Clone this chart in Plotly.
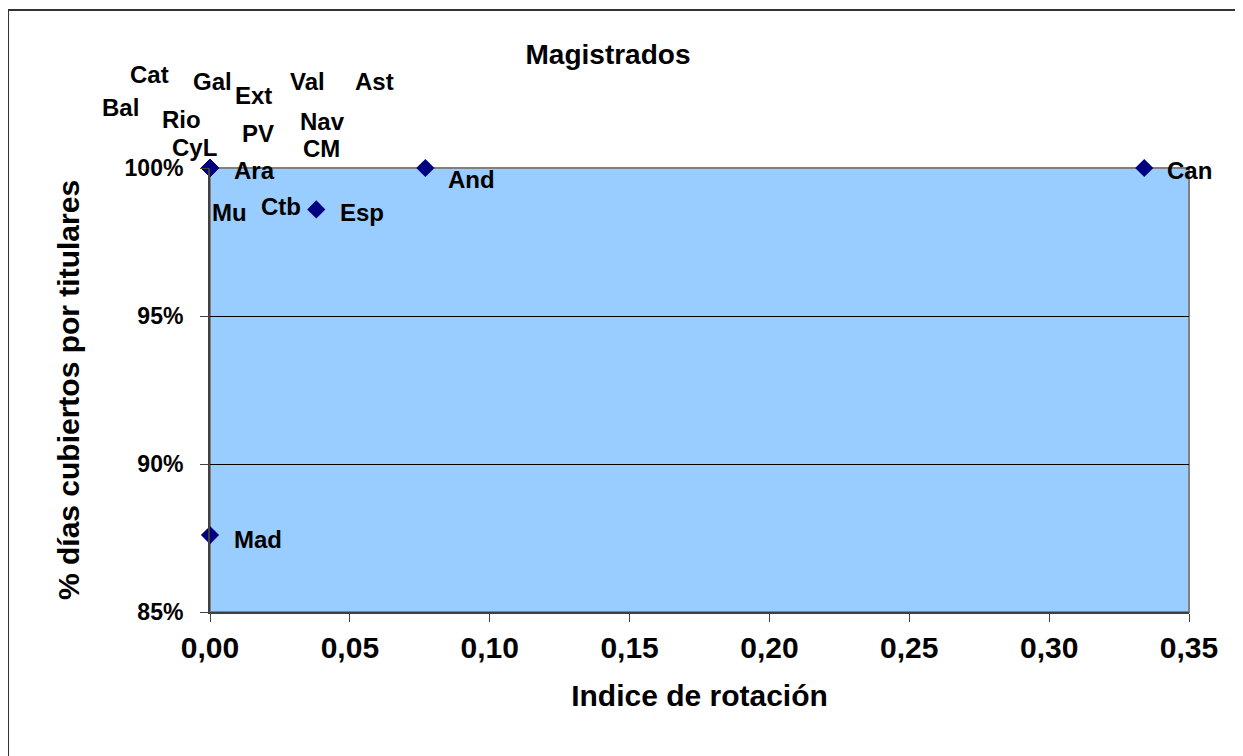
import plotly.graph_objects as go

# data
regiones = ["Bal", "Cat", "Gal", "Ext", "Val", "Ast", "Rio", "PV", "Nav",
            "CyL", "CM", "Ara", "Mu", "Ctb", "Esp", "And", "Can", "Mad"]
rotacion = [0, 0, 0, 0, 0, 0, 0, 0, 0,
            0, 0, 0, 0, 0, 0.038, 0.077, 0.334, 0]
cubiertos = [1.0, 1.0, 1.0, 1.0, 1.0, 1.0, 1.0, 1.0, 1.0,
             1.0, 1.0, 1.0, 1.0, 1.0, 0.986, 1.0, 1.0, 0.876]

# label offsets in pixels (as dragged in the original)
offsets = {
    "Bal": (-90, 61), "Cat": (-61, 94), "Gal": (2, 87), "Ext": (43, 73),
    "Val": (97, 87), "Ast": (164, 87), "Rio": (-29, 49), "PV": (48, 35),
    "Nav": (112, 47), "CyL": (-16, 21), "CM": (111, 20), "Ara": (44, -2),
    "Mu": (19, -44), "Ctb": (71, -38), "Esp": (46, -3), "And": (46, -11),
    "Can": (45, -2), "Mad": (48, -4),
}

FONT = "Liberation Sans, Arial, sans-serif"
W, H = 1235, 748  # page body has an 8px margin

fig = go.Figure(go.Scatter(
    x=rotacion, y=cubiertos, mode="markers",
    marker=dict(symbol="diamond", size=14, color="#000080"),
    cliponaxis=False, hoverinfo="skip",
))

for name, xv, yv in zip(regiones, rotacion, cubiertos):
    dx, dy = offsets[name]
    fig.add_annotation(x=xv, y=yv, text=name, showarrow=False,
                       xshift=dx, yshift=dy,
                       font=dict(family=FONT, size=24, color="black", weight="bold"))

# outer chart border
fig.add_shape(type="rect", xref="paper", yref="paper",
              x0=-0.2063, x1=1.0521, y0=-0.4, y1=1.3559,
              line=dict(color="#333333", width=2), layer="below")

fig.update_layout(
    width=W, height=H,
    margin=dict(l=202, r=54, t=160, b=144),
    paper_bgcolor="white", plot_bgcolor="#99CCFF",
    separators=",.",
    showlegend=False,
    font=dict(family=FONT, color="black"),
    title=dict(text="Magistrados", x=600 / W, xanchor="center",
               y=1 - 46 / H, yanchor="middle", yref="container",
               font=dict(family=FONT, size=28, weight="bold")),
    xaxis=dict(range=[0, 0.35], dtick=0.05, tickformat=".2f",
               showgrid=False, zeroline=False,
               showline=True, linecolor="#404040", linewidth=2, mirror=False,
               ticks="outside", ticklen=8, tickcolor="#404040",
               ticklabelstandoff=0,
               tickfont=dict(size=30, weight="bold"),
               title=dict(text="Indice de rotación", standoff=22,
                          font=dict(size=30, weight="bold"))),
    yaxis=dict(range=[0.85, 1.0], dtick=0.05, tickformat=".0%",
               showgrid=True, gridcolor="black", gridwidth=1,
               zeroline=False,
               showline=True, linecolor="#404040", linewidth=2,
               ticks="outside", ticklen=8, tickcolor="#404040",
               ticklabelstandoff=12,
               tickfont=dict(size=23, weight="bold"),
               title=dict(text="% días cubiertos por titulares", standoff=36,
                          font=dict(size=30, weight="bold"))),
)

# gray frame on top/right of the plot area
fig.add_shape(type="rect", xref="paper", yref="paper", x0=0, x1=1, y0=0, y1=1,
              line=dict(color="#808080", width=2), layer="below")

fig.write_html("out.html")
